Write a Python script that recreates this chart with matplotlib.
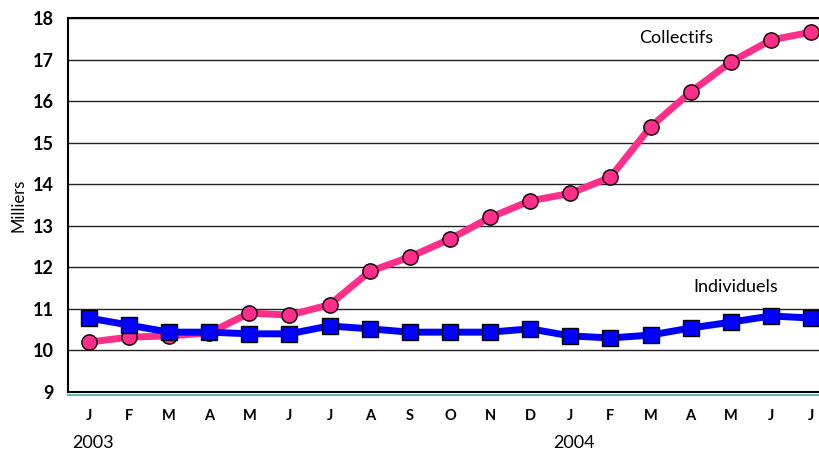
import matplotlib
matplotlib.use('Agg')
import matplotlib.pyplot as plt
from matplotlib.lines import Line2D

months = ['J', 'F', 'M', 'A', 'M', 'J', 'J', 'A', 'S', 'O', 'N', 'D',
          'J', 'F', 'M', 'A', 'M', 'J', 'J']
years = ['2003', '2004']
year_pos = [0, 12]

collectifs = [10.20, 10.32, 10.35, 10.42, 10.90, 10.85, 11.10, 11.90, 12.25,
              12.68, 13.20, 13.60, 13.78, 14.17, 15.38, 16.22, 16.94, 17.47, 17.66]
individuels = [10.78, 10.61, 10.44, 10.44, 10.40, 10.40, 10.59, 10.52, 10.44,
               10.44, 10.44, 10.52, 10.35, 10.30, 10.37, 10.54, 10.68, 10.83, 10.78]
yticks = [9, 10, 11, 12, 13, 14, 15, 16, 17, 18]

plt.rcParams['font.family'] = ['Lato', 'DejaVu Sans']

fig = plt.figure(figsize=(8.19, 4.53), dpi=100)
ax = fig.add_axes([68 / 819, 1 - 392 / 453, 1 - 68 / 819, 374 / 453])

x = list(range(len(months)))
ax.plot(x, collectifs, color='#FF2E8A', lw=5, marker='o', ms=11,
        mfc='#FF2E8A', mec='black', mew=1.0, zorder=3)
ax.plot(x, individuels, color='#0000FF', lw=5, marker='s', ms=11,
        mfc='#0000FF', mec='black', mew=1.0, zorder=3)

ax.set_xlim(-0.52, 18.2)
ax.set_ylim(9, 18)
ax.set_yticks(yticks)
ax.set_yticklabels([str(v) for v in yticks], fontsize=13, fontweight='bold')
ax.set_xticks(x)
ax.set_xticklabels(months, fontsize=10.5, fontweight='bold')
ax.tick_params(axis='both', length=0)
ax.tick_params(axis='x', pad=12)
ax.tick_params(axis='y', pad=10)
ax.yaxis.grid(True, color='#222222', lw=1.0)
ax.set_axisbelow(True)

ax.spines['right'].set_visible(False)
for side in ['left', 'top', 'bottom']:
    ax.spines[side].set_color('black')
    ax.spines[side].set_linewidth(1.5)

# teal rule under the bottom axis
fig.add_artist(Line2D([68 / 819, 1], [1 - 394.5 / 453] * 2,
                      transform=fig.transFigure, color='#4BA3A3', lw=1.2))

ax.set_ylabel('Milliers', fontsize=12, labelpad=5)

for label, pos in zip(years, year_pos):
    ax.annotate(label, xy=(pos, 0), xycoords=('data', 'figure fraction'),
                xytext=(3, 1 - 443 / 453), textcoords=('offset points', 'figure fraction'),
                ha='center', va='center', fontsize=13)

ax.text(14.64, 17.52, 'Collectifs', fontsize=13, ha='center', va='center')
ax.text(16.13, 11.53, 'Individuels', fontsize=13, ha='center', va='center')

fig.savefig('out.png', dpi=100)
